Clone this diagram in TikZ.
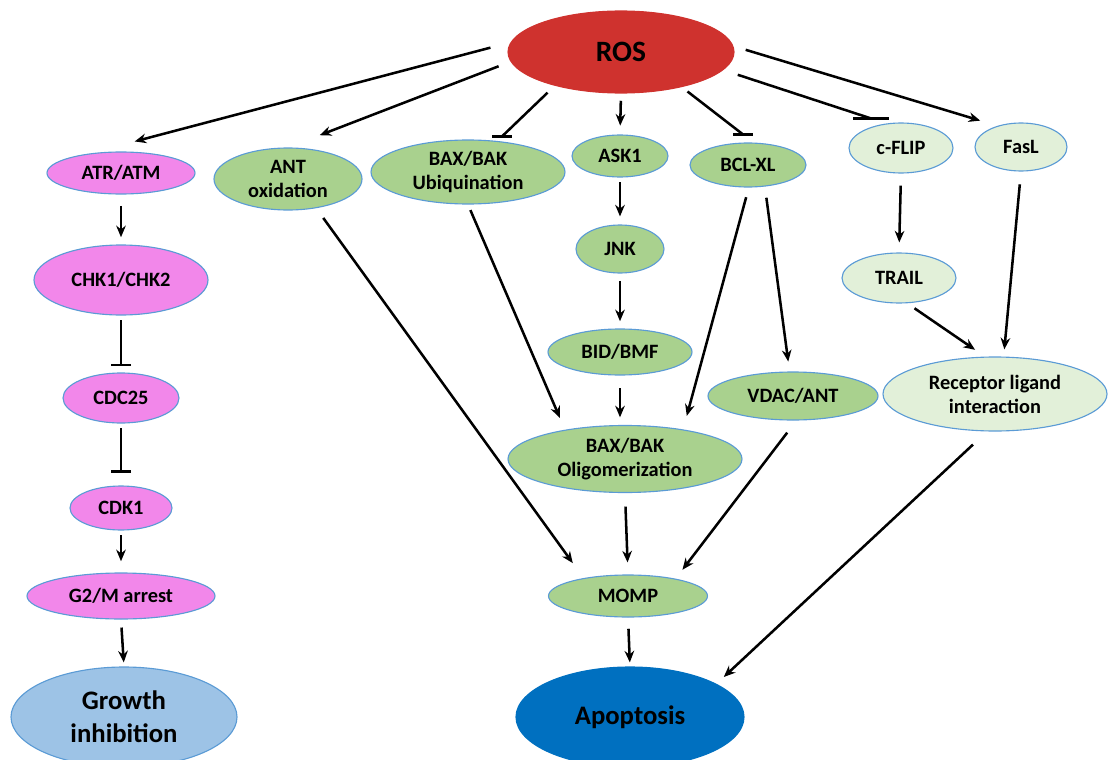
\documentclass[tikz,border=0pt]{standalone}
\usepackage{fontspec}
\setmainfont{Carlito}
\usepackage{tikz}
\usetikzlibrary{arrows.meta,shapes.geometric}
\definecolor{rosred}{RGB}{207,50,46}
\definecolor{cyclepink}{RGB}{242,135,234}
\definecolor{mitogreen}{RGB}{169,209,142}
\definecolor{palegreen}{RGB}{226,240,217}
\definecolor{edgeblue}{RGB}{91,155,213}
\definecolor{growthblue}{RGB}{157,195,230}
\definecolor{apopblue}{RGB}{0,112,192}
\tikzset{
  bub/.style 2 args={ellipse,draw=edgeblue,line width=0.8pt,inner sep=0pt,align=center,
    minimum width=#1*0.25mm,minimum height=#2*0.25mm},
  pinkbub/.style 2 args={bub={#1}{#2},fill=cyclepink},
  greenbub/.style 2 args={bub={#1}{#2},fill=mitogreen},
  palebub/.style 2 args={bub={#1}{#2},fill=palegreen},
  bigtext/.style={font=\bfseries\fontsize{19}{23.5}\selectfont},
  conn/.style={->,line width=1.8pt},
  inh/.style={-{Bar[width=5mm]},line width=1.8pt},
  barline/.style={line width=1.8pt}
}

\begin{document}
\begin{tikzpicture}[x=0.25mm,y=-0.25mm,>={Stealth[length=2.9mm,width=2.4mm]},
    font=\bfseries\fontsize{14.5}{17}\selectfont]
  \useasboundingbox (0,0) rectangle (1108,760);

  % top
  \node[bub={226}{82},fill=rosred,draw=rosred,font=\bfseries\fontsize{21}{24}\selectfont] (ros) at (621,52) {ROS};

  % cell cycle branch
  \node[pinkbub={148}{42}] (atr) at (121,173) {ATR/ATM};
  \node[pinkbub={174}{70}] (chk) at (121,280) {CHK1/CHK2};
  \node[pinkbub={116}{50}] (cdc) at (121,398) {CDC25};
  \node[pinkbub={102}{44}] (cdk) at (121,508) {CDK1};
  \node[pinkbub={188}{46}] (g2m) at (121,596) {G2/M arrest};
  \node[bub={226}{100},fill=growthblue,bigtext] (growth) at (124,717) {Growth\\inhibition};

  % mitochondrial branch
  \node[greenbub={148}{62}] (ant) at (288,179) {ANT\\oxidation};
  \node[greenbub={194}{64}] (baxub) at (468,172) {BAX/BAK\\Ubiquination};
  \node[greenbub={96}{42}] (ask) at (620,156) {ASK1};
  \node[greenbub={116}{44}] (bcl) at (748,165) {BCL-XL};
  \node[greenbub={88}{48}] (jnk) at (620,249) {JNK};
  \node[greenbub={144}{46}] (bid) at (620,352) {BID/BMF};
  \node[greenbub={170}{48}] (vdac) at (793,396) {VDAC/ANT};
  \node[greenbub={234}{67}] (olig) at (625,459) {BAX/BAK\\Oligomerization};
  \node[greenbub={159}{42}] (momp) at (628,596) {MOMP};
  \node[bub={228}{100},fill=apopblue,draw=apopblue,bigtext] (apop) at (630,717) {Apoptosis};

  % receptor branch
  \node[palebub={104}{50}] (cflip) at (901,148) {c-FLIP};
  \node[palebub={92}{48}] (fasl) at (1021,147) {FasL};
  \node[palebub={114}{50}] (trail) at (899,278) {TRAIL};
  \node[palebub={224}{74}] (recep) at (995,394) {Receptor ligand\\interaction};

  % bar ends of the slanted inhibitions
  \coordinate (ubbar) at ([shift={(34,-3)}]baxub.north);
  \coordinate (bclbar) at ([shift={(-5,-8)}]bcl.north);
  \coordinate (flipbar) at ([shift={(-30,-4)}]cflip.north);

  % from ROS
  \draw[conn,shorten <=5.2mm,shorten >=11.9mm] (ros.175) -- (atr.149);
  \draw[conn,shorten <=3.2mm,shorten >=8.5mm] (ros.185) -- (ant.north);
  \draw[barline,shorten <=2.5mm] (ros.207) -- (ubbar);
  \draw[barline] ([shift={(-10,0)}]ubbar) -- ([shift={(10,0)}]ubbar);
  \draw[conn,shorten <=1.8mm,shorten >=2.2mm] (ros.south) -- (ask.north);
  \draw[barline,shorten <=1.8mm] (ros.330) -- (bclbar);
  \draw[barline] ([shift={(-10,0)}]bclbar) -- ([shift={(10,0)}]bclbar);
  \draw[barline,shorten <=3.8mm] (ros.350) -- (flipbar);
  \draw[barline] ([shift={(-18,0)}]flipbar) -- ([shift={(18,0)}]flipbar);
  \draw[conn,shorten <=3.2mm,shorten >=4.5mm] (ros.3) -- (fasl.138);

  % cell cycle
  \draw[conn,shorten <=2.8mm,shorten >=1.8mm] (atr.south) -- (chk.north);
  \draw[inh,shorten <=1.2mm,shorten >=1.5mm] (chk.south) -- (cdc.north);
  \draw[inh,shorten <=1.2mm,shorten >=3.2mm] (cdc.south) -- (cdk.north);
  \draw[conn,shorten <=1.2mm,shorten >=2.8mm] (cdk.south) -- (g2m.north);
  \draw[conn,shorten <=2mm,shorten >=1mm] (g2m.south) -- (growth.north);

  % mitochondria
  \draw[conn,shorten <=3mm,shorten >=4.6mm] (ant.314) -- (momp.158);
  \draw[conn,shorten <=1.5mm,shorten >=3.2mm] (baxub.south) -- (olig.154);
  \draw[conn,shorten <=1.2mm,shorten >=2mm] (ask.south) -- (jnk.north);
  \draw[conn,shorten <=1.8mm,shorten >=1.8mm] (jnk.south) -- (bid.north);
  \draw[conn,shorten <=3.2mm,shorten >=1.9mm] (bid.south) -- (bid.south |- olig.north);
  \draw[conn,shorten <=2.5mm,shorten >=3.5mm] (bcl.272) -- (olig.27);
  \draw[conn,shorten <=2.8mm,shorten >=2.5mm] (bcl.308) -- (vdac.98);
  \draw[conn,shorten <=3.4mm,shorten >=3mm] (olig.south) -- (momp.north);
  \draw[conn,shorten <=3.8mm,shorten >=2.8mm] (vdac.278) -- (momp.20);
  \draw[conn,shorten <=2.8mm,shorten >=1mm] (momp.south) -- (apop.north);

  % receptors
  \draw[conn,shorten <=3mm,shorten >=2.5mm] (cflip.south) -- (trail.north);
  \draw[conn,shorten <=3.2mm,shorten >=1.8mm] (fasl.south) -- (recep.77);
  \draw[conn,shorten <=2.2mm,shorten >=3mm] (trail.288) -- (recep.105);
  \draw[conn,shorten <=4.8mm,shorten >=2.5mm] (recep.258) -- (apop.21);
\end{tikzpicture}
\end{document}
